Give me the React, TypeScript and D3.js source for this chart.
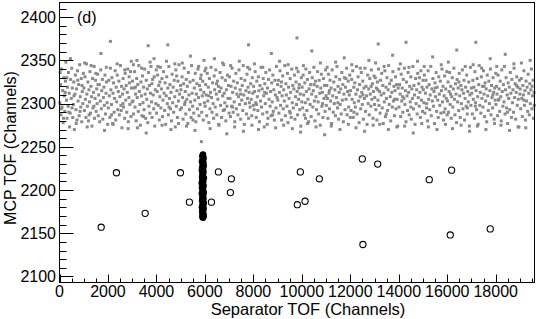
import * as d3 from "d3";

// open circles (isolated events)
const openPts: [number, number][] = [
  [1720, 2157], [2350, 2220], [3535, 2173], [4990, 2220], [5360, 2186],
  [6270, 2186], [6557, 2221], [7093, 2213], [7052, 2197], [9938, 2221],
  [10722, 2213], [10132, 2187], [9814, 2183], [12495, 2236], [13130, 2230],
  [12520, 2137], [15258, 2212], [16180, 2223], [16124, 2148], [17773, 2155],
];

// dense cluster of filled markers near 6000
const blackPts: [number, number][] = [
  [5920, 2241], [5895, 2239], [5945, 2237], [5910, 2235], [5880, 2233], [5935, 2232],
  [5905, 2230], [5950, 2228], [5890, 2226], [5925, 2225], [5875, 2223], [5940, 2221],
  [5900, 2219], [5915, 2217], [5885, 2215], [5955, 2214], [5895, 2212], [5930, 2210],
  [5870, 2208], [5910, 2206], [5945, 2205], [5880, 2203], [5920, 2201], [5900, 2199],
  [5950, 2197], [5875, 2196], [5925, 2194], [5895, 2192], [5940, 2190], [5885, 2188],
  [5915, 2187], [5955, 2185], [5900, 2183], [5930, 2181], [5880, 2180], [5945, 2178],
  [5910, 2176], [5890, 2175], [5935, 2173], [5905, 2172], [5950, 2170], [5920, 2168],
  [5895, 2169],
];

// background band (gray squares)
const grayPts: [number, number][] = [
  [15,2301],[40,2322],[62,2287],[88,2340],[105,2296],[131,2315],[150,2278],[177,2330],[198,2309],[220,2291],[246,2326],[263,2348],[289,2304],[311,2283],[330,2319],[358,2297],[372,2336],[399,2312],[415,2273],[441,2289],[460,2328],[487,2306],[503,2341],[529,2318],[546,2284],[571,2299],[590,2325],[612,2270],[637,2311],[655,2333],[680,2293],[702,2317],[719,2281],[744,2338],[766,2303],[790,2322],[812,2286],[833,2345],[857,2308],[875,2296],[899,2329],[918,2279],[941,2314],[963,2300],[985,2335],[28,2336],[76,2294],[164,2283],[234,2313],[301,2330],[385,2290],[452,2352],[518,2295],[598,2309],[691,2277],[755,2327],[848,2291],[930,2321],
  [1008,2318],[1027,2292],[1049,2331],[1066,2305],[1090,2284],[1112,2346],[1129,2311],[1153,2297],[1171,2325],[1196,2280],[1214,2316],[1238,2302],[1255,2337],[1279,2289],[1297,2320],[1322,2308],[1340,2274],[1363,2329],[1381,2295],[1404,2313],[1428,2343],[1445,2283],[1467,2306],[1489,2327],[1511,2291],[1536,2317],[1552,2300],[1575,2334],[1599,2286],[1617,2310],[1641,2322],[1660,2279],[1683,2303],[1707,2358],[1702,2339],[1726,2294],[1744,2315],[1769,2328],[1788,2282],[1810,2307],[1833,2319],[1851,2298],[1876,2333],[1895,2288],[1918,2312],[1940,2325],[1963,2301],[1987,2276],[1037,2347],[1141,2273],[1303,2344],[1419,2297],[1588,2322],[1856,2269],[1932,2342],[1221,2287],[1497,2335],
  [2012,2295],[2034,2327],[2056,2309],[2079,2284],[2101,2341],[2120,2316],[2144,2299],[2163,2330],[2189,2277],[2207,2312],[2230,2324],[2252,2290],[2271,2306],[2296,2338],[2318,2281],[2339,2319],[2361,2302],[2383,2333],[2404,2293],[2426,2314],[2450,2326],[2471,2287],[2493,2308],[2515,2344],[2533,2298],[2558,2320],[2577,2272],[2600,2311],[2624,2329],[2643,2296],[2666,2317],[2688,2283],[2709,2335],[2731,2304],[2752,2321],[2776,2290],[2798,2313],[2817,2340],[2840,2279],[2863,2307],[2885,2324],[2904,2299],[2929,2337],[2950,2285],[2972,2318],[2994,2302],[2100,2372],[2215,2276],[2380,2346],[2545,2292],[2690,2339],[2833,2271],[2960,2349],[2147,2287],[2619,2300],[2873,2331],
  [3010,2326],[3031,2303],[3055,2288],[3074,2318],[3098,2337],[3117,2296],[3140,2311],[3162,2280],[3185,2329],[3192,2350],[3207,2307],[3229,2322],[3250,2291],[3272,2344],[3295,2314],[3318,2299],[3336,2275],[3359,2325],[3381,2309],[3402,2286],[3425,2332],[3447,2301],[3470,2319],[3491,2293],[3512,2340],[3536,2311],[3555,2283],[3579,2327],[3600,2305],[3622,2317],[3643,2278],[3660,2367],[3668,2336],[3687,2297],[3710,2321],[3731,2289],[3754,2312],[3776,2343],[3797,2302],[3820,2284],[3842,2328],[3864,2310],[3886,2294],[3907,2331],[3930,2274],[3951,2316],[3975,2300],[3996,2339],[3048,2345],[3214,2272],[3390,2341],[3577,2266],[3740,2348],[3902,2352],[3131,2319],[3466,2285],[3815,2323],
  [4006,2289],[4029,2314],[4050,2333],[4073,2298],[4095,2321],[4118,2281],[4139,2308],[4160,2342],[4184,2295],[4205,2317],[4227,2329],[4249,2285],[4270,2304],[4293,2337],[4316,2312],[4337,2292],[4358,2324],[4381,2276],[4404,2309],[4425,2331],[4447,2300],[4470,2368],[4470,2318],[4492,2287],[4513,2343],[4537,2306],[4556,2322],[4579,2294],[4601,2313],[4622,2280],[4646,2334],[4667,2301],[4690,2319],[4711,2290],[4733,2327],[4755,2308],[4777,2273],[4800,2339],[4821,2297],[4844,2315],[4865,2284],[4888,2326],[4909,2303],[4931,2345],[4954,2311],[4977,2293],[4998,2321],[4061,2343],[4232,2275],[4415,2349],[4598,2270],[4760,2346],[4912,2277],[4142,2325],[4520,2296],[4835,2332],
  [5012,2316],[5033,2295],[5057,2331],[5078,2307],[5099,2282],[5121,2323],[5144,2341],[5165,2299],[5187,2314],[5209,2288],[5230,2328],[5254,2305],[5275,2320],[5296,2277],[5319,2336],[5342,2310],[5363,2293],[5385,2325],[5407,2302],[5428,2284],[5452,2344],[5473,2312],[5495,2297],[5516,2327],[5538,2289],[5561,2318],[5583,2304],[5604,2335],[5626,2279],[5648,2311],[5670,2323],[5692,2294],[5713,2340],[5736,2307],[5758,2286],[5779,2321],[5801,2299],[5823,2316],[5846,2333],[5855,2256],[5867,2290],[5889,2309],[5911,2326],[5932,2281],[5954,2313],[5977,2301],[5998,2338],[5066,2347],[5240,2274],[5401,2355],[5590,2269],[5744,2343],[5960,2350],[5185,2302],[5509,2281],[5820,2329],
  [6009,2297],[6030,2322],[6053,2310],[6074,2286],[6097,2335],[6118,2303],[6141,2319],[6162,2278],[6186,2329],[6207,2294],[6229,2313],[6251,2342],[6272,2307],[6294,2290],[6317,2324],[6338,2300],[6360,2283],[6383,2332],[6404,2316],[6426,2296],[6449,2339],[6470,2311],[6491,2287],[6514,2326],[6535,2305],[6557,2320],[6580,2275],[6601,2314],[6623,2336],[6646,2298],[6667,2318],[6689,2284],[6710,2330],[6733,2309],[6755,2292],[6777,2345],[6799,2312],[6820,2301],[6843,2327],[6864,2280],[6886,2316],[6909,2297],[6931,2333],[6952,2306],[6975,2321],[6996,2289],[6040,2341],[6215,2271],[6392,2352],[6568,2276],[6731,2347],[6902,2265],[6155,2309],[6478,2323],[6812,2293],
  [7011,2331],[7034,2306],[7055,2285],[7078,2320],[7099,2297],[7121,2341],[7143,2313],[7166,2290],[7187,2326],[7209,2302],[7232,2279],[7253,2318],[7276,2335],[7297,2294],[7319,2311],[7340,2324],[7363,2287],[7385,2308],[7406,2339],[7430,2299],[7451,2316],[7473,2282],[7494,2329],[7518,2304],[7539,2321],[7561,2292],[7582,2344],[7605,2310],[7627,2276],[7648,2327],[7671,2300],[7692,2315],[7714,2288],[7736,2334],[7758,2306],[7780,2319],[7800,2368],[7802,2283],[7824,2313],[7846,2340],[7867,2296],[7890,2323],[7911,2305],[7933,2286],[7955,2330],[7977,2312],[7999,2298],[7062,2344],[7224,2273],[7418,2349],[7590,2268],[7763,2342],[7940,2275],[7139,2296],[7475,2311],[7836,2301],
  [8008,2320],[8031,2293],[8052,2314],[8075,2337],[8096,2301],[8119,2284],[8140,2326],[8163,2308],[8185,2292],[8206,2331],[8229,2315],[8250,2279],[8272,2321],[8295,2303],[8316,2342],[8339,2296],[8361,2317],[8383,2288],[8405,2329],[8426,2309],[8449,2273],[8470,2323],[8493,2300],[8514,2336],[8537,2312],[8558,2290],[8581,2318],[8602,2283],[8624,2328],[8647,2305],[8668,2339],[8690,2297],[8712,2314],[8735,2286],[8756,2324],[8778,2302],[8801,2333],[8822,2291],[8844,2316],[8866,2281],[8888,2327],[8910,2310],[8933,2295],[8954,2343],[8976,2307],[8998,2322],[8044,2346],[8212,2270],[8389,2342],[8571,2276],[8740,2358],[8916,2272],[8131,2299],[8466,2313],[8795,2287],
  [9010,2304],[9033,2327],[9054,2289],[9077,2313],[9098,2338],[9121,2298],[9142,2320],[9165,2281],[9186,2309],[9208,2332],[9231,2294],[9252,2316],[9275,2303],[9296,2344],[9318,2286],[9341,2323],[9362,2310],[9385,2297],[9406,2335],[9428,2278],[9451,2319],[9472,2306],[9495,2291],[9516,2329],[9538,2313],[9561,2284],[9582,2340],[9604,2301],[9627,2321],[9648,2295],[9670,2317],[9693,2333],[9714,2282],[9736,2308],[9759,2325],[9780,2299],[9800,2376],[9802,2314],[9825,2287],[9846,2337],[9868,2305],[9891,2322],[9912,2293],[9934,2311],[9957,2274],[9978,2330],[9999,2302],[9081,2349],[9247,2275],[9433,2345],[9609,2271],[9785,2341],[9948,2267],[9160,2325],[9522,2289],[9873,2318],
  [10012,2319],[10033,2295],[10056,2333],[10077,2310],[10099,2287],[10122,2324],[10143,2301],[10166,2340],[10187,2314],[10209,2292],[10232,2328],[10253,2305],[10276,2279],[10297,2317],[10319,2336],[10342,2299],[10363,2322],[10386,2285],[10407,2311],[10429,2330],[10452,2296],[10473,2315],[10496,2342],[10517,2303],[10539,2280],[10562,2326],[10583,2308],[10606,2293],[10627,2320],[10649,2337],[10672,2302],[10693,2288],[10716,2327],[10737,2312],[10760,2275],[10781,2318],[10803,2334],[10826,2297],[10847,2313],[10870,2284],[10891,2329],[10913,2306],[10936,2321],[10957,2291],[10980,2339],[10998,2309],[10064,2344],[10236,2277],[10411,2361],[10587,2273],[10764,2347],[10941,2264],[10150,2283],[10505,2322],[10856,2300],
  [11009,2298],[11031,2321],[11054,2306],[11075,2283],[11098,2334],[11119,2312],[11142,2294],[11163,2327],[11186,2303],[11207,2318],[11230,2277],[11251,2339],[11274,2309],[11295,2290],[11318,2325],[11339,2300],[11362,2316],[11384,2286],[11405,2331],[11428,2307],[11449,2343],[11472,2295],[11493,2320],[11516,2282],[11537,2313],[11560,2328],[11581,2299],[11604,2317],[11625,2288],[11648,2336],[11669,2304],[11692,2322],[11713,2279],[11736,2311],[11757,2330],[11780,2293],[11801,2319],[11824,2305],[11845,2341],[11868,2287],[11889,2314],[11912,2326],[11933,2296],[11956,2310],[11977,2333],[11998,2284],[11045,2342],[11213,2274],[11394,2348],[11572,2270],[11748,2353],[11920,2276],[11139,2315],[11488,2301],[11818,2329],
  [12011,2315],[12032,2292],[12055,2328],[12076,2305],[12099,2338],[12120,2284],[12143,2319],[12164,2301],[12187,2324],[12208,2296],[12231,2311],[12252,2343],[12275,2288],[12296,2316],[12319,2331],[12340,2303],[12363,2278],[12384,2322],[12407,2308],[12428,2294],[12451,2336],[12472,2313],[12495,2299],[12516,2326],[12539,2282],[12560,2318],[12583,2306],[12604,2341],[12627,2291],[12648,2320],[12671,2309],[12692,2276],[12715,2333],[12736,2300],[12759,2317],[12780,2287],[12803,2329],[12824,2311],[12847,2297],[12868,2339],[12891,2305],[12912,2323],[12935,2283],[12956,2314],[12979,2332],[12998,2299],[12060,2345],[12233,2272],[12410,2341],[12588,2268],[12765,2350],[12940,2275],[12150,2290],[12520,2310],[12860,2320],
  [13008,2307],[13031,2330],[13052,2293],[13075,2318],[13096,2281],[13119,2325],[13140,2304],[13150,2369],[13163,2340],[13184,2298],[13207,2314],[13228,2289],[13251,2327],[13272,2310],[13295,2335],[13316,2295],[13339,2321],[13360,2277],[13383,2312],[13404,2302],[13427,2338],[13448,2285],[13471,2319],[13492,2306],[13515,2330],[13536,2292],[13559,2316],[13580,2344],[13603,2299],[13624,2323],[13647,2308],[13668,2280],[13691,2327],[13712,2313],[13735,2296],[13756,2337],[13779,2303],[13800,2320],[13823,2286],[13844,2315],[13867,2331],[13888,2294],[13911,2322],[13932,2305],[13955,2274],[13976,2318],[13999,2340],[13043,2347],[13216,2276],[13395,2343],[13570,2270],[13746,2356],[13921,2273],[13130,2316],[13485,2288],[13830,2305],
  [14010,2296],[14033,2322],[14054,2311],[14077,2285],[14098,2334],[14121,2303],[14142,2318],[14165,2290],[14186,2328],[14209,2306],[14230,2341],[14253,2299],[14274,2315],[14297,2279],[14300,2371],[14318,2325],[14341,2309],[14362,2292],[14385,2336],[14406,2313],[14429,2287],[14450,2320],[14473,2302],[14494,2331],[14517,2282],[14538,2317],[14561,2306],[14582,2343],[14605,2294],[14626,2321],[14649,2310],[14670,2276],[14693,2329],[14714,2300],[14737,2316],[14758,2288],[14781,2335],[14802,2307],[14825,2323],[14846,2297],[14869,2313],[14890,2284],[14913,2338],[14934,2304],[14957,2319],[14978,2291],[14999,2327],[14066,2346],[14240,2274],[14418,2342],[14597,2266],[14773,2349],[14948,2277],[14160,2308],[14500,2296],[14850,2330],
  [15012,2316],[15033,2301],[15056,2333],[15077,2289],[15100,2312],[15121,2327],[15144,2295],[15165,2319],[15188,2280],[15209,2338],[15232,2305],[15253,2322],[15276,2293],[15297,2310],[15320,2343],[15341,2286],[15364,2317],[15385,2303],[15408,2329],[15429,2297],[15452,2314],[15473,2277],[15496,2324],[15517,2308],[15540,2336],[15561,2291],[15584,2319],[15605,2304],[15628,2284],[15649,2331],[15672,2311],[15693,2298],[15716,2326],[15737,2289],[15760,2315],[15781,2340],[15804,2302],[15825,2320],[15848,2281],[15869,2309],[15892,2332],[15913,2294],[15936,2317],[15957,2306],[15980,2337],[15998,2287],[15048,2343],[15222,2273],[15397,2354],[15575,2270],[15752,2345],[15926,2276],[15150,2300],[15500,2318],[15860,2290],
  [16009,2303],[16032,2325],[16053,2290],[16076,2314],[16097,2336],[16120,2299],[16141,2320],[16164,2283],[16185,2308],[16208,2330],[16229,2296],[16252,2317],[16273,2341],[16296,2305],[16317,2287],[16340,2323],[16361,2311],[16384,2278],[16405,2328],[16428,2302],[16449,2318],[16472,2292],[16493,2335],[16516,2309],[16537,2284],[16560,2321],[16581,2300],[16604,2316],[16625,2339],[16648,2294],[16669,2312],[16692,2327],[16713,2281],[16736,2306],[16757,2319],[16780,2297],[16801,2333],[16824,2288],[16845,2314],[16868,2302],[16889,2325],[16912,2274],[16933,2310],[16956,2342],[16977,2298],[16998,2318],[16044,2348],[16218,2271],[16392,2362],[16569,2275],[16745,2343],[16921,2268],[16135,2311],[16480,2325],[16830,2295],
  [17011,2312],[17034,2288],[17055,2327],[17078,2305],[17099,2319],[17122,2283],[17143,2337],[17166,2301],[17180,2371],[17187,2315],[17210,2293],[17231,2329],[17254,2308],[17275,2276],[17298,2322],[17319,2344],[17342,2298],[17363,2313],[17386,2289],[17407,2331],[17430,2306],[17451,2320],[17474,2296],[17495,2338],[17518,2311],[17539,2285],[17562,2324],[17583,2303],[17606,2317],[17627,2279],[17650,2333],[17671,2309],[17694,2292],[17715,2326],[17738,2300],[17759,2315],[17782,2340],[17803,2287],[17826,2321],[17847,2307],[17870,2295],[17891,2330],[17914,2313],[17935,2282],[17958,2318],[17979,2304],[17999,2335],[17069,2345],[17244,2274],[17420,2341],[17596,2270],[17773,2352],[17948,2277],[17160,2297],[17520,2320],[17880,2310],
  [18008,2299],[18031,2320],[18052,2311],[18075,2286],[18096,2333],[18119,2304],[18140,2317],[18163,2291],[18184,2326],[18207,2308],[18228,2280],[18251,2339],[18272,2314],[18295,2297],[18316,2322],[18339,2302],[18360,2343],[18383,2288],[18404,2316],[18427,2330],[18448,2295],[18471,2310],[18492,2277],[18515,2324],[18536,2306],[18559,2319],[18580,2293],[18603,2336],[18624,2312],[18647,2284],[18668,2328],[18691,2301],[18712,2316],[18735,2290],[18756,2341],[18779,2307],[18800,2323],[18823,2282],[18844,2313],[18867,2331],[18888,2298],[18911,2319],[18932,2305],[18955,2273],[18976,2327],[18998,2311],[18040,2343],[18215,2275],[18393,2357],[18570,2269],[18748,2346],[18922,2273],[18130,2305],[18480,2290],[18860,2321],
  [19010,2317],[19031,2294],[19054,2329],[19075,2306],[19098,2285],[19119,2321],[19142,2310],[19163,2338],[19186,2298],[19207,2315],[19230,2281],[19251,2326],[19274,2303],[19295,2319],[19318,2291],[19339,2334],[19362,2312],[19383,2287],[19406,2323],[19427,2300],[19450,2316],[19471,2340],[19494,2294],[19515,2309],[19538,2327],[19559,2283],[19582,2313],[19060,2347],[19240,2272],[19420,2350],[19160,2304],[19500,2320],[19590,2298],
];

const xMajor = [0, 2000, 4000, 6000, 8000, 10000, 12000, 14000, 16000, 18000];
const yMajor = [2100, 2150, 2200, 2250, 2300, 2350, 2400];

const W = 539;
const H = 319;
const FONT = "'Liberation Sans', Arial, Helvetica, sans-serif";

export default function App() {
  const left = 59.5;
  const right = 534.5;
  const top = 2.5;
  const bottom = 282.5;
  const x = d3.scaleLinear().domain([0, 19600]).range([left, right]);
  const y = d3.scaleLinear().domain([2093, 2417]).range([bottom, top]);

  const xMinor = d3.range(0, 19600, 500);
  const yMinor = d3.range(2100, 2417, 10);

  return (
    <svg
      width={W}
      height={H}
      style={{ position: "absolute", left: 0, top: 0, background: "#fff" }}
      fontFamily={FONT}
    >
      <rect x={0} y={0} width={W} height={H} fill="#fff" />
      <g fill="#8a8a8a">
        {grayPts.map((d, i) => (
          <rect key={i} x={x(d[0]) - 1.5} y={y(d[1]) - 1.5} width={3} height={3} />
        ))}
      </g>
      <g fill="#000">
        {blackPts.map((d, i) => (
          <circle key={i} cx={x(d[0])} cy={y(d[1])} r={3.3} />
        ))}
      </g>
      <g fill="none" stroke="#000" strokeWidth={1.1}>
        {openPts.map((d, i) => (
          <circle key={i} cx={x(d[0])} cy={y(d[1])} r={3.1} />
        ))}
      </g>

      {/* axes ticks */}
      <g stroke="#000" strokeWidth={1}>
        {xMinor.map((v) => {
          const major = v % 2000 === 0;
          const px = Math.round(x(v)) + 0.5;
          return <line key={"x" + v} x1={px} x2={px} y1={bottom} y2={bottom - (major ? 8 : 4)} />;
        })}
        {yMinor.map((v) => {
          const major = v % 50 === 0;
          const py = Math.round(y(v)) + 0.5;
          return <line key={"y" + v} x1={left} x2={left + (major ? 14 : 7)} y1={py} y2={py} />;
        })}
      </g>
      <rect x={left} y={top} width={right - left} height={bottom - top} fill="none" stroke="#000" strokeWidth={1} />

      <g fontSize={16} fill="#000">
        {xMajor.map((v) => (
          <text key={v} x={x(v)} y={297} textAnchor="middle">
            {v}
          </text>
        ))}
        {yMajor.map((v) => (
          <text key={v} x={56} y={y(v) + 5.8} textAnchor="end">
            {v}
          </text>
        ))}
        <text x={308} y={315} textAnchor="middle" fontSize={16.5}>
          Separator TOF (Channels)
        </text>
        <text transform={`translate(15.5,${148}) rotate(-90)`} textAnchor="middle">
          MCP TOF (Channels)
        </text>
        <text x={77} y={23}>
          (d)
        </text>
      </g>
    </svg>
  );
}
